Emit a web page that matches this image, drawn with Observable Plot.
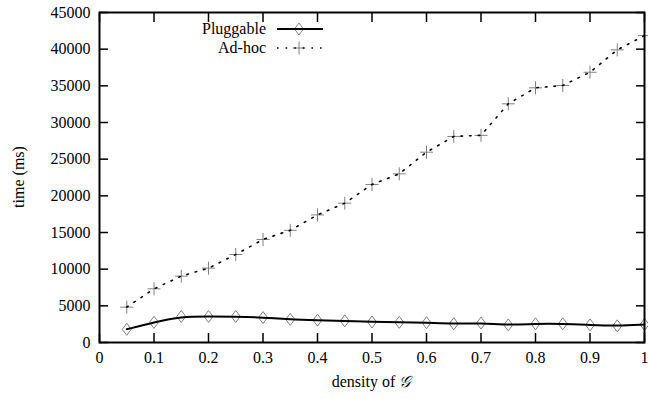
<!DOCTYPE html>
<html>
<head>
<meta charset="utf-8">
<script src="https://cdn.jsdelivr.net/npm/d3@7"></script>
<script src="https://cdn.jsdelivr.net/npm/@observablehq/plot@0.6"></script>
<style>
  html, body { margin: 0; padding: 0; background: #fff; }
  #wrap { position: relative; width: 648px; height: 399px; font-family: "Liberation Serif", "Times New Roman", Times, "DejaVu Serif", serif; }
  #wrap svg text { font-family: "Liberation Serif", "Times New Roman", Times, "DejaVu Serif", serif !important; }
  .legtxt { position: absolute; right: 382px; transform: translateY(-50%); font-size: 16px; white-space: nowrap; }
  .legsw { position: absolute; left: 276px; }
</style>
</head>
<body>
<div id="wrap"></div>
<script>
// ---- data ----
const density = [0.05, 0.1, 0.15, 0.2, 0.25, 0.3, 0.35, 0.4, 0.45, 0.5, 0.55, 0.6, 0.65, 0.7, 0.75, 0.8, 0.85, 0.9, 0.95, 1.0];
const pluggable = [1800, 2750, 3550, 3550, 3550, 3400, 3150, 3050, 2950, 2800, 2750, 2700, 2550, 2650, 2400, 2550, 2550, 2400, 2270, 2450];
const adhoc = [4820, 7320, 9050, 10140, 12000, 14050, 15300, 17400, 19000, 21550, 23000, 25950, 28100, 28250, 32550, 34730, 35050, 36850, 39900, 41850];
const xTicks = [0, 0.1, 0.2, 0.3, 0.4, 0.5, 0.6, 0.7, 0.8, 0.9, 1];
const yTicks = [0, 5000, 10000, 15000, 20000, 25000, 30000, 35000, 40000, 45000];
const seriesNames = ["Pluggable", "Ad-hoc"];

const plugData = density.map((x, i) => ({x, y: pluggable[i]}));
const adhocData = density.map((x, i) => ({x, y: adhoc[i]}));

const diamond = {
  draw(ctx) { ctx.moveTo(0, -6); ctx.lineTo(4.5, 0); ctx.lineTo(0, 6); ctx.lineTo(-4.5, 0); ctx.closePath(); }
};
const plus = {
  draw(ctx) { ctx.moveTo(-6.5, 0); ctx.lineTo(6.5, 0); ctx.moveTo(0, -6.5); ctx.lineTo(0, 6.5); }
};

const markerColor = "#808080";
const serif = "'Liberation Serif', 'Times New Roman', Times, 'DejaVu Serif', serif";

const chart = Plot.plot({
  width: 648,
  height: 399,
  marginLeft: 99,
  marginRight: 4,
  marginTop: 12,
  marginBottom: 57,
  style: {fontFamily: serif, fontSize: "16px", color: "#000", background: "#fff"},
  x: {domain: [0, 1], ticks: xTicks, label: null},
  y: {domain: [0, 45000], ticks: yTicks, label: null},
  marks: [
    Plot.axisX({anchor: "bottom", ticks: xTicks, tickSize: -9, tickPadding: 18, strokeWidth: 1.5, tickFormat: d => String(d), label: null, fontSize: 16, fontFamily: serif}),
    Plot.axisX({anchor: "top", ticks: xTicks, tickSize: -9, strokeWidth: 1.5, tickFormat: () => "", label: null}),
    Plot.axisY({anchor: "left", ticks: yTicks, tickSize: -9, tickPadding: 18, strokeWidth: 1.5, tickFormat: d => String(d), label: null, fontSize: 16, fontFamily: serif}),
    Plot.axisY({anchor: "right", ticks: yTicks, tickSize: -9, strokeWidth: 1.5, tickFormat: () => "", label: null}),
    Plot.dot(plugData, {x: "x", y: "y", symbol: diamond, stroke: markerColor, fill: "none", strokeWidth: 1}),
    Plot.dot(adhocData, {x: "x", y: "y", symbol: plus, stroke: markerColor, fill: "none", strokeWidth: 1}),
    Plot.line(plugData, {x: "x", y: "y", curve: "basis", stroke: "#000", strokeWidth: 2}),
    Plot.line(adhocData, {x: "x", y: "y", stroke: "#000", strokeWidth: 1.6, strokeDasharray: "1.6,7"}),
    Plot.frame({stroke: "#000", strokeWidth: 2})
  ]
});

const wrap = document.getElementById("wrap");
wrap.appendChild(chart);

// axis titles
const ylab = document.createElement("div");
ylab.textContent = "time (ms)";
ylab.style.cssText = "position:absolute;left:19px;top:177px;transform:translate(-50%,-50%) rotate(-90deg);font-size:16px;white-space:nowrap;";
wrap.appendChild(ylab);

const xlab = document.createElement("div");
xlab.innerHTML = "density of <span style=\"font-style:italic\">\u{1D4A2}</span>";
xlab.style.cssText = "position:absolute;left:371px;top:382px;transform:translate(-50%,-50%);font-size:16px;white-space:nowrap;";
wrap.appendChild(xlab);

// legend
const legendY = [29, 48];
seriesNames.forEach((name, i) => {
  const t = document.createElement("div");
  t.className = "legtxt";
  t.textContent = name;
  t.style.top = legendY[i] + "px";
  wrap.appendChild(t);
  const ns = "http://www.w3.org/2000/svg";
  const sw = document.createElementNS(ns, "svg");
  sw.setAttribute("width", 48); sw.setAttribute("height", 16);
  sw.setAttribute("class", "legsw");
  sw.style.top = (legendY[i] - 8) + "px";
  const ln = document.createElementNS(ns, "line");
  ln.setAttribute("x1", 1); ln.setAttribute("x2", 47); ln.setAttribute("y1", 8); ln.setAttribute("y2", 8);
  ln.setAttribute("stroke", "#000");
  const mk = document.createElementNS(ns, "path");
  mk.setAttribute("fill", "none"); mk.setAttribute("stroke", markerColor);
  if (i === 0) {
    ln.setAttribute("stroke-width", 2);
    mk.setAttribute("d", "M23,2L27.5,8L23,14L18.5,8Z");
  } else {
    ln.setAttribute("stroke-width", 1.6);
    ln.setAttribute("stroke-dasharray", "1.6,7");
    mk.setAttribute("d", "M16.5,8H29.5M23,1.5V14.5");
  }
  sw.appendChild(mk);
  sw.appendChild(ln);
  wrap.appendChild(sw);
});
</script>
</body>
</html>
